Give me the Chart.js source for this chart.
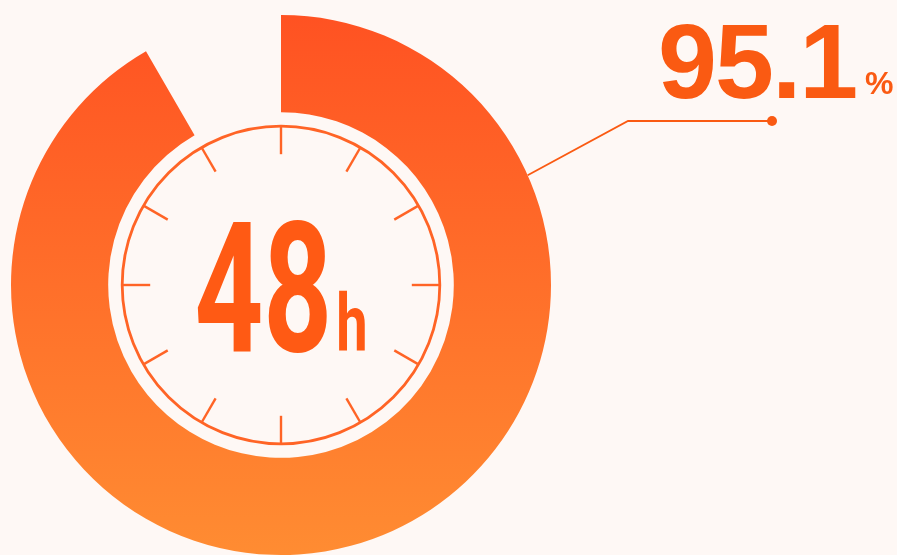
<!DOCTYPE html>
<html>
<head>
<meta charset="utf-8">
<script src="https://cdn.jsdelivr.net/npm/chart.js@4.4.1/dist/chart.umd.min.js"></script>
<style>
  html, body { margin: 0; padding: 0; background: #fef8f5; }
  #wrap { width: 897px; height: 555px; }
</style>
</head>
<body>
<div id="wrap"><canvas id="ringChart" width="897" height="555"></canvas></div>
<script>
// values
const segmentLabels = ['Done', 'Rest'];
const segmentValues = [95.1, 4.9];
const valueLabel = '95.1';
const unitLabel = '%';
const centerValue = '48';
const centerUnit = 'h';
const clockTicks = 12;

const orange = '#fa5a12';
const ctx = document.getElementById('ringChart');

function ringFill(c) {
  if (c.dataIndex === 1) return 'rgba(0,0,0,0)';
  const area = c.chart.chartArea;
  if (!area) return '#ff5522';
  const g = c.chart.ctx.createLinearGradient(0, area.top, 0, area.bottom);
  g.addColorStop(0, '#ff5222');
  g.addColorStop(1, '#ff8c32');
  return g;
}

const overlay = {
  id: 'overlay',
  afterDatasetsDraw(chart) {
    const arc = chart.getDatasetMeta(0).data[0];
    if (!arc) return;
    const c = chart.ctx;
    const cx = arc.x;
    const cy = arc.y;
    const rOut = arc.outerRadius;
    const rClock = arc.innerRadius - 14;

    c.save();
    // clock face
    c.strokeStyle = '#ff6426';
    c.lineWidth = 2.8;
    c.beginPath();
    c.arc(cx, cy, rClock, 0, Math.PI * 2);
    c.stroke();
    c.lineWidth = 2.4;
    for (let i = 0; i < clockTicks; i++) {
      const a = i * Math.PI * 2 / clockTicks;
      c.beginPath();
      c.moveTo(cx + Math.sin(a) * rClock, cy - Math.cos(a) * rClock);
      c.lineTo(cx + Math.sin(a) * (rClock - 28), cy - Math.cos(a) * (rClock - 28));
      c.stroke();
    }

    // center text, squeezed to look condensed
    c.fillStyle = '#ff5a14';
    c.textBaseline = 'alphabetic';
    c.textAlign = 'left';
    const sx = 0.66;
    c.font = 'bold 182px Roboto';
    const wBig = c.measureText(centerValue).width * sx;
    c.font = 'bold 80px Roboto';
    const wSmall = c.measureText(centerUnit).width * 0.7;
    const startX = cx - (wBig + wSmall + 4) / 2;
    const base = cy + 66;
    c.save();
    c.translate(startX, base);
    c.scale(sx, 1);
    c.font = 'bold 182px Roboto';
    c.fillText(centerValue, 0, 0);
    c.restore();
    c.save();
    c.translate(startX + wBig + 4, base);
    c.scale(0.7, 1);
    c.font = 'bold 80px Roboto';
    c.fillText(centerUnit, 0, 0);
    c.restore();

    // callout line
    const ang = 66 * Math.PI / 180;
    const ax = cx + Math.sin(ang) * rOut;
    const ay = cy - Math.cos(ang) * rOut;
    const ex = cx + 347;
    const ey = cy - 164;
    const dx = cx + 491;
    c.strokeStyle = orange;
    c.lineWidth = 1.8;
    c.beginPath();
    c.moveTo(ax, ay);
    c.lineTo(ex, ey);
    c.lineTo(dx, ey);
    c.stroke();
    c.fillStyle = orange;
    c.beginPath();
    c.arc(dx, ey, 5, 0, Math.PI * 2);
    c.fill();

    // value label
    c.font = 'bold 106px "Liberation Sans", Arial, sans-serif';
    c.letterSpacing = '-2px';
    c.fillText(valueLabel, cx + 377, cy - 187);
    c.letterSpacing = '0px';
    c.font = 'bold 32px "Liberation Sans", Arial, sans-serif';
    c.fillText(unitLabel, cx + 584, cy - 191);
    c.restore();
  }
};

new Chart(ctx, {
  type: 'doughnut',
  data: {
    labels: segmentLabels,
    datasets: [
      {
        data: segmentValues,
        backgroundColor: ringFill,
        borderWidth: 0,
        hoverOffset: 0
      }
    ]
  },
  options: {
    responsive: false,
    animation: false,
    cutout: '64%',
    rotation: 0,
    circumference: 347,
    layout: {
      padding: { left: 10, top: 15, right: 345, bottom: 0 }
    },
    plugins: {
      legend: { display: false },
      tooltip: { enabled: false }
    },
    events: []
  },
  plugins: [overlay]
});
</script>
</body>
</html>
